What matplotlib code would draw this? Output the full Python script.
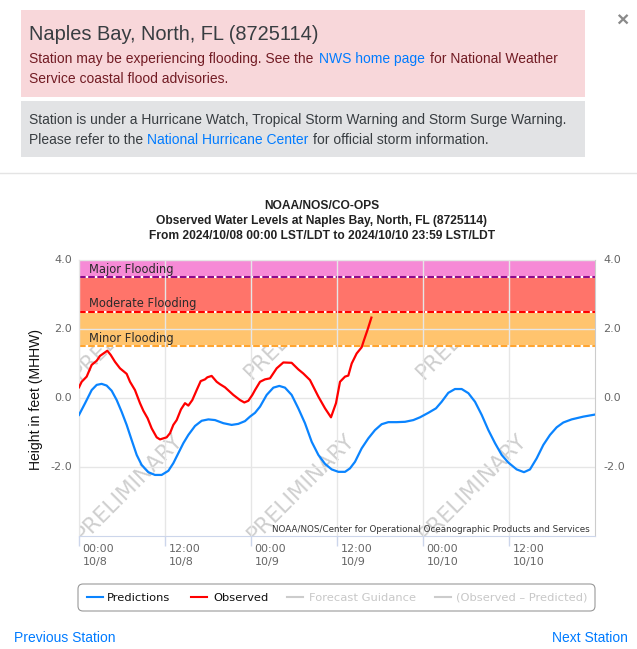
import matplotlib
matplotlib.use('Agg')
import matplotlib.pyplot as plt
from matplotlib.patches import Rectangle, FancyBboxPatch

# water levels (hours since 10/8 00:00, feet)
pred_hours = [0, 0.84, 1.77, 2.47, 3.16, 3.86, 4.56, 5.26, 5.95, 6.65, 7.35, 8.05, 8.74, 9.67, 10.6, 11.53, 12.47,
              13.16, 13.86, 14.56, 15.26, 16.19, 17.12, 18.05, 18.98, 20.14, 21.3, 22.23, 23.16, 23.86, 24.56,
              25.26, 26.19, 27.12, 27.95, 28.74, 29.67, 30.6, 31.53, 32.47, 33.4, 34.33, 35.26, 36.19, 37.12,
              37.81, 38.51, 39.44, 40.37, 41.3, 42.23, 43.16, 44.33, 45.49, 46.65, 47.58, 48.74, 49.81, 50.6,
              51.53, 52.46, 53.4, 54.33, 55.26, 56.19, 57.12, 58.05, 58.98, 59.9, 61.07, 62.09, 62.93, 63.86,
              64.79, 65.72, 66.65, 67.58, 68.74, 70.37, 72]
pred_feet = [-0.49, -0.155, 0.23, 0.38, 0.41, 0.36, 0.21, -0.06, -0.40, -0.78, -1.22, -1.65, -1.94, -2.15, -2.23,
             -2.23, -2.11, -1.89, -1.60, -1.31, -1.07, -0.81, -0.66, -0.62, -0.64, -0.73, -0.78, -0.75, -0.67,
             -0.54, -0.43, -0.25, 0.09, 0.30, 0.35, 0.30, 0.09, -0.30, -0.73, -1.27, -1.65, -1.91, -2.07, -2.14,
             -2.14, -2.04, -1.85, -1.46, -1.17, -0.93, -0.76, -0.70, -0.70, -0.69, -0.64, -0.56, -0.43, -0.30,
             -0.11, 0.15, 0.26, 0.26, 0.14, -0.11, -0.49, -0.93, -1.31, -1.65, -1.87, -2.07, -2.15, -2.07, -1.75,
             -1.36, -1.07, -0.85, -0.71, -0.62, -0.54, -0.48]
obs_hours = [0, 0.37, 1.07, 1.77, 2.47, 2.93, 3.95, 4.42, 5.02, 5.72, 6.65, 7.12, 7.81, 8.51, 8.98, 9.58, 10.14,
             10.84, 11.3, 12.23, 12.7, 13.16, 13.63, 14.23, 14.79, 15.26, 15.81, 16.42, 16.98, 17.58, 17.91,
             18.51, 19.21, 19.67, 20.37, 21.53, 22.47, 23.07, 23.63, 24.19, 24.56, 25.26, 25.95, 26.65, 27.58,
             28.51, 29.67, 30.6, 31.3, 32.23, 33.4, 34.33, 35.16, 35.86, 36.42, 37.12, 37.58, 38.05, 38.74,
             39.44, 39.77, 40.3, 40.8]
obs_feet = [0.31, 0.47, 0.62, 0.96, 1.08, 1.22, 1.37, 1.25, 1.05, 0.86, 0.70, 0.47, 0.23, -0.15, -0.37, -0.59,
            -0.88, -1.14, -1.2, -1.14, -1.02, -0.78, -0.64, -0.33, -0.15, -0.22, -0.06, 0.23, 0.49, 0.54, 0.60,
            0.64, 0.47, 0.40, 0.31, 0.09, -0.06, -0.13, -0.08, 0.09, 0.23, 0.47, 0.54, 0.57, 0.86, 1.03, 1.02,
            0.83, 0.71, 0.52, 0.04, -0.30, -0.56, -0.15, 0.47, 0.62, 0.65, 1.0, 1.29, 1.47, 1.68, 2.0, 2.33]
flood_levels = [1.5, 2.5, 3.5, 4.0]
flood_names = ['Minor Flooding', 'Moderate Flooding', 'Major Flooding']
flood_fill = ['#ffc46e', '#ff746a', '#f68ad6']
flood_line = ['#ffa530', '#ff0000', '#8e0a8e']
x_ticks = [0, 12, 24, 36, 48, 60]
x_labels = ['00:00\n10/8', '12:00\n10/8', '00:00\n10/9', '12:00\n10/9', '00:00\n10/10', '12:00\n10/10']
y_ticks = [-2, 0, 2, 4]
y_labels = ['-2.0', '0.0', '2.0', '4.0']

W, H = 637, 649
fig = plt.figure(figsize=(W / 100, H / 100), dpi=100)

# page furniture in pixel coordinates
page = fig.add_axes([0, 0, 1, 1])
page.set_xlim(0, W)
page.set_ylim(H, 0)
page.axis('off')

html = 'Liberation Sans'
page.add_patch(Rectangle((21, 10), 564, 87, color='#f8d7da', lw=0))
page.add_patch(Rectangle((21, 101), 564, 56, color='#e2e3e5', lw=0))
page.plot([0, W], [173, 173], color='#e4e4e4', lw=1)


def txt(x, y, s, size, color, **kw):
    kw.setdefault('family', html)
    kw.setdefault('va', 'baseline')
    page.text(x, y, s, fontsize=size * 0.72, color=color, **kw)


txt(29, 40, 'Naples Bay, North, FL (8725114)', 20, '#383d41')
txt(29, 63, 'Station may be experiencing flooding. See the', 13.9, '#721c24')
txt(319, 63, 'NWS home page', 13.9, '#007bff')
txt(430, 63, 'for National Weather', 13.9, '#721c24')
txt(29, 83, 'Service coastal flood advisories.', 13.9, '#721c24')
txt(29, 124, 'Station is under a Hurricane Watch, Tropical Storm Warning and Storm Surge Warning.', 13.9, '#383d41')
txt(29, 144, 'Please refer to the', 13.9, '#383d41')
txt(147, 144, 'National Hurricane Center', 13.9, '#007bff')
txt(313, 144, 'for official storm information.', 13.9, '#383d41')
txt(622, 21, '×', 21, '#8a8a8a', ha='center', va='center', weight='bold')

txt(322, 209, 'NOAA/NOS/CO-OPS', 12, '#222222', ha='center', weight='bold')
txt(322, 224, 'Observed Water Levels at Naples Bay, North, FL (8725114)', 12, '#222222', ha='center', weight='bold')
txt(322, 239, 'From 2024/10/08 00:00 LST/LDT to 2024/10/10 23:59 LST/LDT', 12, '#222222', ha='center', weight='bold')
txt(36, 400, 'Height in feet (MHHW)', 14, '#111111', ha='center', va='center', rotation=90)

txt(14, 642, 'Previous Station', 13.9, '#007bff')
txt(628, 642, 'Next Station', 13.9, '#007bff', ha='right')

# legend box
page.add_patch(FancyBboxPatch((78, 584), 517, 27, boxstyle='round,pad=0,rounding_size=5',
                              fc='white', ec='#999999', lw=0.8))
keys = [(87, 107, 'Predictions', '#0a84ff', '#111111'), (191, 213, 'Observed', '#ff0000', '#111111'),
        (287, 309, 'Forecast Guidance', '#cccccc', '#c8c8c8'), (435, 456, '(Observed – Predicted)', '#cccccc', '#c8c8c8')]
for kx, tx, name, line_col, text_col in keys:
    page.plot([kx, kx + 16], [597, 597], color=line_col, lw=1.5)
    txt(tx, 601, name, 11.5, text_col, family='DejaVu Sans')

# chart
ax = fig.add_axes([79 / W, 1 - 536 / H, 516 / W, 276 / H])
ax.set_xlim(0, 72)
ax.set_ylim(-4, 4)
ax.patch.set_alpha(0)

for x0, y0 in [(0.1, 0.52), (24.1, 0.52), (48.1, 0.52), (0.56, -4.17), (24.56, -4.17), (48.56, -4.17)]:
    ax.text(x0, y0, 'PRELIMINARY', fontsize=15.5, color='#cfcfcf', rotation=45, rotation_mode='anchor',
            ha='left', va='baseline', clip_on=True, zorder=0.5, family='DejaVu Sans')

for low, high, fill in zip(flood_levels[:-1], flood_levels[1:], flood_fill):
    ax.axhspan(low, high, color=fill, lw=0, zorder=1)
ax.set_axisbelow(False)
ax.set_xticks(x_ticks)
ax.set_xticklabels([])
ax.set_yticks(y_ticks)
ax.set_yticklabels([])
ax.grid(True, color='#e6e6e6', lw=1)
for gridline in ax.get_xgridlines() + ax.get_ygridlines():
    gridline.set_zorder(1.5)
ax.tick_params(axis='y', length=0)
ax.tick_params(axis='x', length=7.2, color='#ccd6eb', width=1)

for level, col, name in zip(flood_levels[:-1], flood_line, flood_names):
    ax.axhline(level, color='white', lw=1.5, zorder=2)
    ax.axhline(level, color=col, lw=1.5, ls=(0, (3.2, 1.2)), zorder=2.1)
    ax.text(1.4, level + 0.04, name, fontsize=8.3, color='#2b2b2b', va='bottom', zorder=3, family='DejaVu Sans')

ax.plot(pred_hours, pred_feet, color='#0a84ff', lw=1.6, zorder=4, solid_joinstyle='round')
ax.plot(obs_hours, obs_feet, color='#ff0000', lw=1.6, zorder=4, solid_joinstyle='round')

for tick, label in zip(x_ticks, x_labels):
    first, second = label.split('\n')
    ax.annotate(first, (tick, -4), xytext=(2.5, -9), textcoords='offset points', fontsize=8,
                color='#666666', va='center', annotation_clip=False)
    ax.annotate(second, (tick, -4), xytext=(2.5, -19), textcoords='offset points', fontsize=8,
                color='#666666', va='center', annotation_clip=False)
for val, label in zip(y_ticks, y_labels):
    ax.annotate(label, (0, val), xytext=(-5, 0), textcoords='offset points', fontsize=8, color='#666666',
                ha='right', va='center', annotation_clip=False)
    ax.annotate(label, (72, val), xytext=(6, 0), textcoords='offset points', fontsize=8, color='#666666',
                ha='left', va='center', annotation_clip=False)

ax.text(71.3, -3.82, 'NOAA/NOS/Center for Operational Oceanographic Products and Services', fontsize=6.3,
        color='#333333', ha='right', va='center', zorder=5, family='DejaVu Sans')

for side in ['left', 'right', 'top']:
    ax.spines[side].set_color('#cccccc')
ax.spines['bottom'].set_color('#ccd6eb')

fig.savefig('out.png', dpi=100)
